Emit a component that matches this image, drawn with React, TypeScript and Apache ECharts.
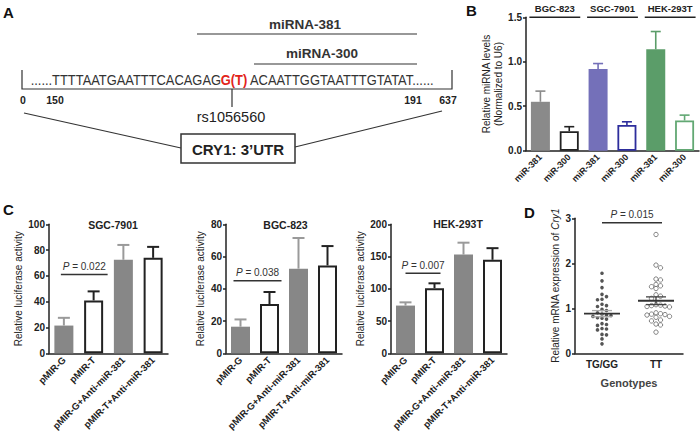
import React, { useEffect, useRef } from "react";
import * as echarts from "echarts";

// ---------- Panel B data ----------
const bCellLines = ["BGC-823", "SGC-7901", "HEK-293T"];
const bCategories = ["miR-381", "miR-300", "miR-381", "miR-300", "miR-381", "miR-300"];
const bMeans = [0.55, 0.22, 0.92, 0.29, 1.14, 0.34];
const bErrors = [0.12, 0.05, 0.06, 0.035, 0.2, 0.06];
const bAxisMax = 1.5;
const bAxisStep = 0.5;

// ---------- Panel C data ----------
const cConstructs = ["pMIR-G", "pMIR-T", "pMIR-G+Anti-miR-381", "pMIR-T+Anti-miR-381"];
const cTitles = ["SGC-7901", "BGC-823", "HEK-293T"];
const sgcMeans = [21.5, 41, 72.5, 74];
const sgcErrors = [6, 7, 11.5, 8.5];
const bgcMeans = [16.5, 30.5, 52.5, 54.5];
const bgcErrors = [4.5, 7.5, 19, 12];
const hekMeans = [74, 101, 153, 145];
const hekErrors = [5, 7.5, 18.5, 18];
const cAxisMax = [100, 80, 200];
const cAxisStep = [20, 20, 50];
const cPValues = ["0.022", "0.038", "0.007"];
const cPLevels = [61, 45, 124];

// ---------- Panel D data ----------
const dGroups = ["TG/GG", "TT"];
const tgggValues = [1.78, 1.61, 1.46, 1.31, 1.26, 1.2, 1.19, 1.09, 1.06, 1.04, 0.98, 0.95, 0.9, 0.87, 0.85, 0.84, 0.82, 0.79, 0.78, 0.76, 0.66, 0.64, 0.62, 0.55, 0.54, 0.52, 0.42, 0.41, 0.32, 0.21];
const ttValues = [2.64, 1.96, 1.9, 1.65, 1.63, 1.53, 1.5, 1.48, 1.44, 1.3, 1.27, 1.22, 1.08, 1.07, 1.06, 1.05, 1.04, 1.03, 0.9, 0.88, 0.87, 0.86, 0.85, 0.82, 0.8, 0.74, 0.72, 0.65, 0.63, 0.47];
const dPValue = "0.015";
const dPLevel = 2.9;
const dAxisMax = 3;

// ---------- styles ----------
const FONT = "'Liberation Sans', Arial, Helvetica, sans-serif";
const INK = "#222";
const bFill = ["#8a8a8a", "#ffffff", "#7470b9", "#ffffff", "#5b9d69", "#ffffff"];
const bStroke = ["#8a8a8a", "#222222", "#7470b9", "#2d2d9c", "#5b9d69", "#62a873"];
const bBorder = [0, 1.8, 0, 1.8, 0, 1.8];
const cFill = ["#878787", "#ffffff", "#878787", "#ffffff"];
const cStroke = ["#878787", "#222222", "#878787", "#222222"];
const cErrColor = ["#9a9a9a", "#222222", "#9a9a9a", "#222222"];
const cBorder = [0, 2, 0, 2];
const cPads = [[3, 14], [7, 12], [0, 6]];

function mean(a: number[]) {
  return a.reduce((s, v) => s + v, 0) / a.length;
}
function sem(a: number[]) {
  const m = mean(a);
  const v = a.reduce((s, x) => s + (x - m) * (x - m), 0) / (a.length - 1);
  return Math.sqrt(v) / Math.sqrt(a.length);
}
function swarm(values: number[], thr: number) {
  const placed: { v: number; k: number }[] = [];
  const order = [0, 1, -1, 2, -2, 3, -3, 4, -4];
  return values.map((v) => {
    for (const k of order) {
      if (!placed.some((p) => p.k === k && Math.abs(p.v - v) < thr)) {
        placed.push({ v, k });
        return k;
      }
    }
    return 0;
  });
}

function catAxis(gridIndex: number, data: string[], fontSize: number) {
  return {
    type: "category",
    gridIndex,
    data,
    axisLine: { lineStyle: { color: INK, width: 1.5 } },
    axisTick: { alignWithLabel: true, length: 3, lineStyle: { color: INK, width: 1.5 } },
    axisLabel: { rotate: 45, fontSize, fontWeight: "bold", color: INK, fontFamily: FONT, margin: 5, interval: 0 },
  };
}
function valAxis(gridIndex: number, max: number, interval: number, name: string, nameGap: number, formatter?: any) {
  return {
    type: "value",
    gridIndex,
    min: 0,
    max,
    interval,
    name,
    nameLocation: "middle",
    nameGap,
    nameTextStyle: { fontSize: 10, color: INK, fontFamily: FONT, lineHeight: 12, rich: { i: { fontStyle: "italic", fontSize: 10, color: INK, fontFamily: FONT } } },
    axisLine: { show: true, lineStyle: { color: INK, width: 1.5 } },
    axisTick: { show: true, length: 3, lineStyle: { color: INK, width: 1.5 } },
    splitLine: { show: false },
    axisLabel: { fontSize: 10, fontWeight: "bold", color: INK, fontFamily: FONT, margin: 4, formatter },
  };
}

function errorRender(colors: string[], cap: number, lw: number) {
  return (params: any, api: any) => {
    const i = api.value(0);
    const m = api.value(1);
    const e = api.value(2);
    const p0 = api.coord([i, m]);
    const p1 = api.coord([i, m + e]);
    const c = colors[params.dataIndex];
    return {
      type: "group",
      children: [
        { type: "line", shape: { x1: p0[0], y1: p0[1], x2: p1[0], y2: p1[1] }, style: { stroke: c, lineWidth: lw } },
        { type: "line", shape: { x1: p1[0] - cap, y1: p1[1], x2: p1[0] + cap, y2: p1[1] }, style: { stroke: c, lineWidth: lw } },
      ],
    };
  };
}

function pRender(label: string, padL: number, padR: number) {
  return (params: any, api: any) => {
    const a = api.coord([api.value(0), api.value(2)]);
    const b = api.coord([api.value(1), api.value(2)]);
    const x1 = a[0] - padL;
    const x2 = b[0] + padR;
    return {
      type: "group",
      children: [
        { type: "line", shape: { x1, y1: a[1], x2, y2: a[1] }, style: { stroke: "#333", lineWidth: 1.5 } },
        {
          type: "text",
          x: (x1 + x2) / 2,
          y: a[1] - 3,
          style: {
            text: "{i|P} = " + label,
            align: "center",
            verticalAlign: "bottom",
            fontSize: 10,
            fontFamily: FONT,
            fill: "#333",
            rich: { i: { fontStyle: "italic", fontSize: 10, fontFamily: FONT, fill: "#333" } },
          },
        },
      ],
    };
  };
}

function buildOption() {
  const grids = [
    { left: 526, top: 17.3, width: 173, height: 133.4 },
    { left: 49, top: 224.3, width: 119, height: 129 },
    { left: 226, top: 224.3, width: 116, height: 129 },
    { left: 391, top: 224.3, width: 116, height: 129 },
    { left: 575, top: 218.3, width: 108, height: 135 },
  ];

  const xAxes: any[] = [
    catAxis(0, bCategories, 9),
    catAxis(1, cConstructs, 9.5),
    catAxis(2, cConstructs, 9.5),
    catAxis(3, cConstructs, 9.5),
    {
      ...catAxis(4, dGroups, 10),
      axisLabel: { rotate: 0, fontSize: 10, fontWeight: "bold", color: INK, fontFamily: FONT, margin: 6 },
      name: "Genotypes",
      nameLocation: "middle",
      nameGap: 24,
      nameTextStyle: { fontSize: 11, fontWeight: "bold", color: "#444", fontFamily: FONT },
    },
  ];
  const yAxes: any[] = [
    valAxis(0, bAxisMax, bAxisStep, "Relative miRNA levels\n(Normalized to U6)", 21, (v: number) => v.toFixed(1)),
    valAxis(1, cAxisMax[0], cAxisStep[0], "Relative luciferase activity", 21),
    valAxis(2, cAxisMax[1], cAxisStep[1], "Relative luciferase activity", 18.5),
    valAxis(3, cAxisMax[2], cAxisStep[2], "Relative luciferase activity", 23),
    valAxis(4, dAxisMax, 1, "Relative mRNA expression of {i|Cry1}", 11.5),
  ];

  const series: any[] = [];

  // Panel B bars
  series.push({
    type: "bar",
    xAxisIndex: 0,
    yAxisIndex: 0,
    barWidth: 19,
    data: bMeans.map((v, i) => ({
      value: v,
      itemStyle: { color: bFill[i], borderColor: bStroke[i], borderWidth: bBorder[i] },
    })),
  });
  series.push({
    type: "custom",
    xAxisIndex: 0,
    yAxisIndex: 0,
    z: 3,
    renderItem: errorRender(bStroke, 5, 1.6),
    data: bMeans.map((m, i) => [i, m, bErrors[i]]),
  });
  // Panel B group headers
  series.push({
    type: "custom",
    xAxisIndex: 0,
    yAxisIndex: 0,
    clip: false,
    renderItem: (params: any, api: any) => {
      const a = api.coord([api.value(0), api.value(2)]);
      const b = api.coord([api.value(1), api.value(2)]);
      return {
        type: "group",
        children: [
          { type: "line", shape: { x1: a[0] - 11, y1: a[1], x2: b[0] + 11, y2: a[1] }, style: { stroke: "#222", lineWidth: 1.5 } },
          {
            type: "text",
            x: (a[0] + b[0]) / 2,
            y: a[1] - 4,
            style: { text: bCellLines[params.dataIndex], align: "center", verticalAlign: "bottom", fontSize: 9.5, fontWeight: "bold", fontFamily: FONT, fill: "#222" },
          },
        ],
      };
    },
    data: bCellLines.map((_, k) => [2 * k, 2 * k + 1, bAxisMax]),
  });

  // Panel C
  const cMeans = [sgcMeans, bgcMeans, hekMeans];
  const cErrors = [sgcErrors, bgcErrors, hekErrors];
  for (let g = 0; g < 3; g++) {
    const ax = g + 1;
    series.push({
      type: "bar",
      xAxisIndex: ax,
      yAxisIndex: ax,
      barWidth: 19,
      data: cMeans[g].map((v, i) => ({
        value: v,
        itemStyle: { color: cFill[i], borderColor: cStroke[i], borderWidth: cBorder[i] },
      })),
    });
    series.push({
      type: "custom",
      xAxisIndex: ax,
      yAxisIndex: ax,
      z: 3,
      renderItem: errorRender(cErrColor, 6, 2),
      data: cMeans[g].map((m, i) => [i, m, cErrors[g][i]]),
    });
    series.push({
      type: "custom",
      xAxisIndex: ax,
      yAxisIndex: ax,
      clip: false,
      renderItem: pRender(cPValues[g], cPads[g][0], cPads[g][1]),
      data: [[0, 1, cPLevels[g]]],
    });
  }

  // Panel D
  const groups = [tgggValues, ttValues];
  const offTG = swarm(tgggValues, 0.085);
  const offTT = swarm(ttValues, 0.085);
  series.push({
    type: "scatter",
    xAxisIndex: 4,
    yAxisIndex: 4,
    symbol: "circle",
    symbolSize: 3.6,
    itemStyle: { color: "#2a2a2a" },
    data: tgggValues.map((v, i) => ({ value: [0, v], symbolOffset: [offTG[i] * 4.5, 0] })),
  });
  series.push({
    type: "scatter",
    xAxisIndex: 4,
    yAxisIndex: 4,
    symbol: "circle",
    symbolSize: 4.4,
    itemStyle: { color: "#ffffff", borderColor: "#555", borderWidth: 0.9 },
    data: ttValues.map((v, i) => ({ value: [1, v], symbolOffset: [offTT[i] * 4.5, 0] })),
  });
  const meanColors = ["#333", "#333"];
  const semColors = ["#aaa", "#444"];
  series.push({
    type: "custom",
    xAxisIndex: 4,
    yAxisIndex: 4,
    z: 5,
    renderItem: (params: any, api: any) => {
      const i = api.value(0);
      const m = api.value(1);
      const s = api.value(2);
      const c = api.coord([i, m]);
      const t = api.coord([i, m + s]);
      const b = api.coord([i, m - s]);
      const k = params.dataIndex;
      return {
        type: "group",
        children: [
          { type: "line", shape: { x1: c[0], y1: t[1], x2: c[0], y2: b[1] }, style: { stroke: semColors[k], lineWidth: 1.3 } },
          { type: "line", shape: { x1: c[0] - 10, y1: t[1], x2: c[0] + 10, y2: t[1] }, style: { stroke: semColors[k], lineWidth: 1.3 } },
          { type: "line", shape: { x1: c[0] - 10, y1: b[1], x2: c[0] + 10, y2: b[1] }, style: { stroke: semColors[k], lineWidth: 1.3 } },
          { type: "line", shape: { x1: c[0] - 18, y1: c[1], x2: c[0] + 18, y2: c[1] }, style: { stroke: meanColors[k], lineWidth: 1.8 } },
        ],
      };
    },
    data: groups.map((a, i) => [i, mean(a), sem(a)]),
  });
  series.push({
    type: "custom",
    xAxisIndex: 4,
    yAxisIndex: 4,
    clip: false,
    renderItem: pRender(dPValue, 0, 6),
    data: [[0, 1, dPLevel]],
  });

  const seqBase = { fontSize: 15, fontFamily: FONT, fill: "#333", verticalAlign: "middle" };
  const numStyle = { fontSize: 10.5, fontWeight: "bold", fontFamily: FONT, fill: "#222", align: "center", verticalAlign: "middle" };
  const titleStyle = { fontSize: 10.5, fontWeight: "bold", fontFamily: FONT, fill: "#222", align: "center", verticalAlign: "middle" };
  const letterStyle = { fontSize: 15, fontWeight: "bold", fontFamily: FONT, fill: "#111", verticalAlign: "middle" };

  const graphic: any[] = [
    // panel letters
    { type: "text", x: 3, y: 12, style: { ...letterStyle, text: "A" } },
    { type: "text", x: 466, y: 10, style: { ...letterStyle, text: "B" } },
    { type: "text", x: 3, y: 209, style: { ...letterStyle, text: "C" } },
    { type: "text", x: 524, y: 212, style: { ...letterStyle, text: "D" } },
    // panel A diagram
    { type: "text", x: 305, y: 24, style: { text: "miRNA-381", fontSize: 13.5, fontWeight: "bold", fontFamily: FONT, fill: "#333", align: "center", verticalAlign: "middle" } },
    { type: "line", shape: { x1: 197, y1: 34, x2: 417, y2: 34 }, style: { stroke: "#333", lineWidth: 1.2 } },
    { type: "text", x: 322, y: 53, style: { text: "miRNA-300", fontSize: 13.5, fontWeight: "bold", fontFamily: FONT, fill: "#333", align: "center", verticalAlign: "middle" } },
    { type: "line", shape: { x1: 254, y1: 64, x2: 417, y2: 64 }, style: { stroke: "#333", lineWidth: 1.2 } },
    { type: "polyline", shape: { points: [[22, 70], [22, 89], [452, 89], [452, 70]] }, style: { stroke: "#333", fill: null, lineWidth: 1.2 } },
    { type: "text", x: 221, y: 80, scaleX: 0.86, style: { ...seqBase, text: "......TTTTAATGAATTTCACAGAG", align: "right" } },
    { type: "text", x: 234, y: 80, scaleX: 0.86, style: { ...seqBase, text: "G(T)", align: "center", fontWeight: "bold", fill: "#e2231a" } },
    { type: "text", x: 250, y: 80, scaleX: 0.86, style: { ...seqBase, text: "ACAATTGGTAATTTGTATAT......", align: "left" } },
    { type: "text", x: 23, y: 99.5, style: { ...numStyle, text: "0" } },
    { type: "text", x: 55, y: 99.5, style: { ...numStyle, text: "150" } },
    { type: "text", x: 413, y: 99.5, style: { ...numStyle, text: "191" } },
    { type: "text", x: 448, y: 99.5, style: { ...numStyle, text: "637" } },
    { type: "line", shape: { x1: 232, y1: 89, x2: 232, y2: 107 }, style: { stroke: "#333", lineWidth: 1.2 } },
    { type: "text", x: 231, y: 117, style: { text: "rs1056560", fontSize: 14.5, fontFamily: FONT, fill: "#222", align: "center", verticalAlign: "middle" } },
    { type: "line", shape: { x1: 24, y1: 113, x2: 181, y2: 148 }, style: { stroke: "#333", lineWidth: 1.2 } },
    { type: "line", shape: { x1: 295, y1: 147, x2: 442, y2: 111 }, style: { stroke: "#333", lineWidth: 1.2 } },
    { type: "rect", shape: { x: 181, y: 134, width: 114, height: 29 }, style: { fill: "#fff", stroke: "#333", lineWidth: 1.5 } },
    { type: "text", x: 238, y: 149, style: { text: "CRY1: 3\u2019UTR", fontSize: 15, fontWeight: "bold", fontFamily: FONT, fill: "#222", align: "center", verticalAlign: "middle" } },
    // panel C titles
    { type: "text", x: 113, y: 224.5, style: { ...titleStyle, text: cTitles[0] } },
    { type: "text", x: 285.5, y: 224.5, style: { ...titleStyle, text: cTitles[1] } },
    { type: "text", x: 458, y: 223.5, style: { ...titleStyle, text: cTitles[2] } },
  ];

  return {
    animation: false,
    backgroundColor: "#ffffff",
    textStyle: { fontFamily: FONT },
    grid: grids,
    xAxis: xAxes,
    yAxis: yAxes,
    series,
    graphic,
  };
}

export default function App() {
  const ref = useRef<HTMLDivElement>(null);
  useEffect(() => {
    document.body.style.margin = "0";
    if (!ref.current) return;
    const chart = echarts.init(ref.current, undefined, { renderer: "svg" });
    chart.setOption(buildOption() as any);
    return () => chart.dispose();
  }, []);
  return <div ref={ref} style={{ width: 700, height: 437 }} />;
}
